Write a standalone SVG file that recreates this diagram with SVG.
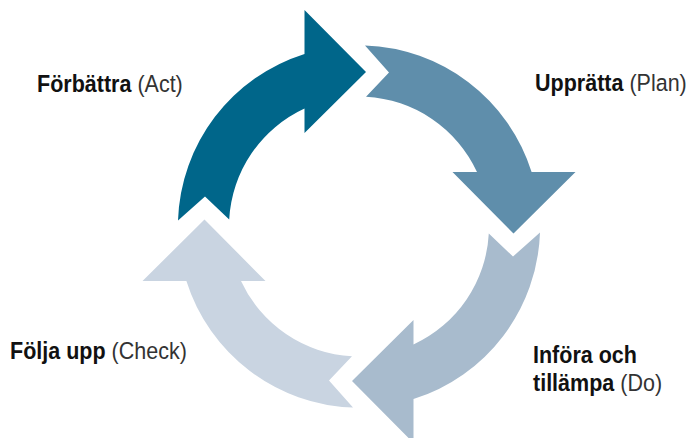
<svg xmlns="http://www.w3.org/2000/svg" xmlns:xlink="http://www.w3.org/1999/xlink" width="694" height="438" viewBox="0 0 694 438">
<style>
.lbl{font-family:"Liberation Sans",Arial,sans-serif;font-size:23.5px;fill:#333333}
.b{font-weight:bold;fill:#111111}
</style>
<defs>
<path id="arrow" d="M178,220.5 A181,181 0 0 1 304.5,53.9 L304.5,10 L366,72 L304.5,133 L304.5,108.5 A130,130 0 0 0 229.2,219.5 L205,196.5 Z"/>
</defs>
<rect width="694" height="438" fill="#ffffff"/>
<g id="act"><use xlink:href="#arrow" href="#arrow" fill="#00668A"/></g>
<g id="plan"><use xlink:href="#arrow" href="#arrow" fill="#5F8EAB" transform="rotate(90 359 226.5)"/></g>
<g id="do"><use xlink:href="#arrow" href="#arrow" fill="#A8BBCD" transform="rotate(180 359 226.5)"/></g>
<g id="check"><use xlink:href="#arrow" href="#arrow" fill="#C9D4E1" transform="rotate(270 359 226.5)"/></g>
<g id="connectors"></g>
<g id="label-act"><text class="lbl" transform="translate(37 92) scale(0.916 1)"><tspan class="b">Förbättra</tspan> (Act)</text></g>
<g id="label-plan"><text class="lbl" transform="translate(535 91) scale(0.916 1)"><tspan class="b">Upprätta</tspan> (Plan)</text></g>
<g id="label-do"><text class="lbl" transform="translate(533 363) scale(0.916 1)"><tspan class="b">Införa och</tspan><tspan x="0" y="28" class="b">tillämpa</tspan> (Do)</text></g>
<g id="label-check"><text class="lbl" transform="translate(10 359) scale(0.916 1)"><tspan class="b">Följa upp</tspan> (Check)</text></g>
</svg>
